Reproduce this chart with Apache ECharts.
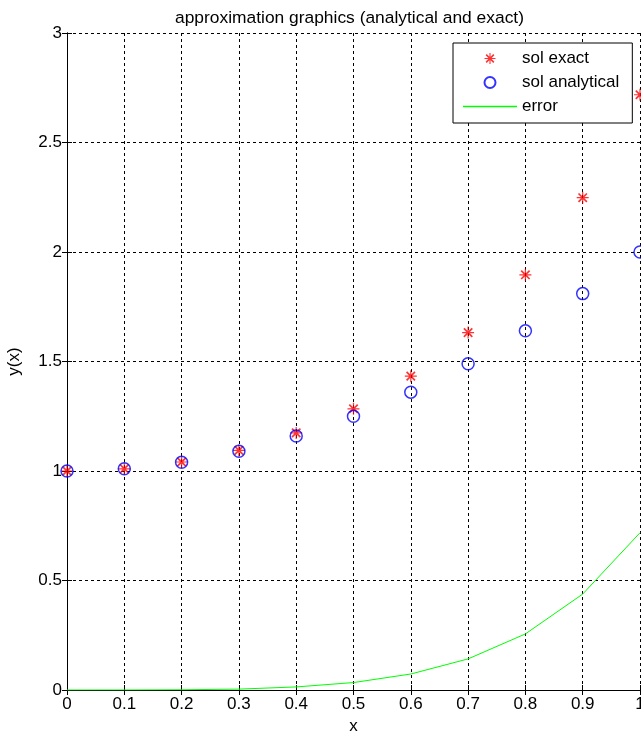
<!DOCTYPE html>
<html>
<head>
<meta charset="utf-8">
<script src="https://cdn.jsdelivr.net/npm/echarts@6/dist/echarts.min.js"></script>
<style>
  html, body { margin: 0; padding: 0; background: #fff; }
  #chart { width: 641px; height: 736px; }
</style>
</head>
<body>
<div id="chart"></div>
<script>
// values
var xs = [0, 0.1, 0.2, 0.3, 0.4, 0.5, 0.6, 0.7, 0.8, 0.9, 1];
var solExact = [1, 1.01, 1.041, 1.094, 1.174, 1.284, 1.433, 1.632, 1.896, 2.248, 2.718];
var solAnalytical = [1, 1.01, 1.04, 1.09, 1.16, 1.25, 1.36, 1.49, 1.64, 1.81, 2.0];
var errorVals = [0, 0.0001, 0.001, 0.004, 0.014, 0.034, 0.073, 0.142, 0.256, 0.438, 0.718];

function pairs(ys) {
  return xs.map(function (x, i) { return [x, ys[i]]; });
}

// asterisk: + and x made of thin bars
var asterisk = 'path://M0,4.5L10,4.5L10,5.5L0,5.5Z' +
  'M4.5,0L5.5,0L5.5,10L4.5,10Z' +
  'M1,2L2,1L9,8L8,9Z' +
  'M8,1L9,2L2,9L1,8Z';
// plain line for the legend entry of the error curve
var lineIcon = 'path://M0,0L54,0L54,1.3L0,1.3Z';

var font = 'Arial, "Liberation Sans", sans-serif';
var dashed = { show: true, lineStyle: { color: '#000', type: [3, 3], width: 1 } };
var txt = { fontFamily: font, fontSize: 17, color: '#000' };

var chart = echarts.init(document.getElementById('chart'));
chart.setOption({
  animation: false,
  backgroundColor: '#fff',
  title: {
    text: 'approximation graphics (analytical and exact)',
    left: 175, top: 10, padding: 0,
    textStyle: { fontFamily: font, fontSize: 17.4, fontWeight: 'normal', color: '#000' }
  },
  legend: {
    orient: 'vertical',
    left: 453, top: 43,
    padding: [7, 13, 8, 10],
    itemGap: 7,
    itemWidth: 54, itemHeight: 11,
    backgroundColor: '#fff',
    borderColor: '#000', borderWidth: 1,
    textStyle: { fontFamily: font, fontSize: 17, color: '#000', lineHeight: 17 },
    data: ['sol exact', 'sol analytical', { name: 'error', icon: lineIcon }]
  },
  grid: { left: 67, right: 1, top: 33, bottom: 46, outerBoundsMode: 'none' },
  xAxis: [{
    type: 'value', min: 0, max: 1, interval: 0.1,
    name: 'x', nameLocation: 'middle', nameGap: 28,
    nameTextStyle: txt,
    axisLine: { show: true, onZero: false, lineStyle: { color: '#000' } },
    axisTick: { show: true, inside: true, length: 5, lineStyle: { color: '#000' } },
    axisLabel: { fontFamily: font, fontSize: 17, color: '#000', margin: 6 },
    splitLine: dashed
  }, {
    type: 'value', position: 'top', min: 0, max: 1, interval: 0.1,
    axisLine: { show: true, lineStyle: { color: '#000' } },
    axisTick: { show: true, inside: true, length: 5, lineStyle: { color: '#000' } },
    axisLabel: { show: false }, splitLine: { show: false }
  }],
  yAxis: [{
    type: 'value', min: 0, max: 3, interval: 0.5,
    name: 'y(x)', nameLocation: 'middle', nameGap: 44,
    nameTextStyle: txt,
    axisLine: { show: true, onZero: false, lineStyle: { color: '#000' } },
    axisTick: { show: true, inside: true, length: 5, lineStyle: { color: '#000' } },
    axisLabel: { fontFamily: font, fontSize: 17, color: '#000', margin: 5 },
    splitLine: dashed
  }, {
    type: 'value', position: 'right', min: 0, max: 3, interval: 0.5,
    axisLine: { show: true, lineStyle: { color: '#000' } },
    axisTick: { show: true, inside: true, length: 5, lineStyle: { color: '#000' } },
    axisLabel: { show: false }, splitLine: { show: false }
  }],
  series: [{
    name: 'sol exact', type: 'scatter',
    symbol: asterisk, symbolSize: 12,
    itemStyle: { color: '#ff0000' },
    clip: false,
    data: pairs(solExact)
  }, {
    name: 'sol analytical', type: 'scatter',
    symbol: 'circle', symbolSize: 12,
    itemStyle: { color: 'rgba(0,0,0,0)', borderColor: '#0000ff', borderWidth: 1.5 },
    clip: false,
    data: pairs(solAnalytical)
  }, {
    name: 'error', type: 'line',
    showSymbol: false, symbol: 'none',
    lineStyle: { color: '#00ff00', width: 1 },
    itemStyle: { color: '#00ff00' },
    data: pairs(errorVals)
  }]
});
</script>
</body>
</html>
